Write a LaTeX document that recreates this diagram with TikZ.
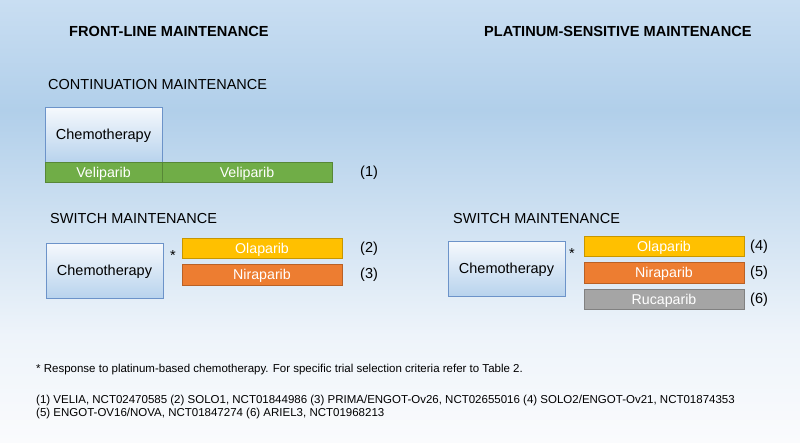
\documentclass[tikz,border=0pt]{standalone}
\usepackage{fontspec}
\setmainfont{Liberation Sans}
\usetikzlibrary{positioning}

\definecolor{bgA}{RGB}{201,222,242}
\definecolor{bgB}{RGB}{177,207,234}
\definecolor{bgC}{RGB}{238,244,250}
\definecolor{bgD}{RGB}{250,251,253}
\definecolor{chemoline}{RGB}{108,147,201}
\definecolor{chemotop}{RGB}{246,249,253}
\definecolor{chemobot}{RGB}{184,211,237}
\definecolor{veligreen}{RGB}{112,173,71}
\definecolor{olayellow}{RGB}{255,192,0}
\definecolor{niraorange}{RGB}{237,125,49}
\definecolor{rucagrey}{RGB}{165,165,165}

\begin{document}
\begin{tikzpicture}[
  x=1pt, y=-1pt,
  every node/.style={font=\fontsize{14.5}{17}\selectfont},
  chemo/.style={draw=chemoline, line width=0.8pt, top color=chemotop, bottom color=chemobot,
    minimum width=117pt, minimum height=55pt, inner sep=0pt, outer sep=0pt, anchor=north west,
    text height=13pt, text depth=3pt},
  drug/.style={draw=#1!78!black, line width=0.8pt, fill=#1, text=white, font=\fontsize{14.2}{17}\selectfont,
    minimum height=20.5pt, inner sep=0pt, outer sep=0pt, text height=12.9pt, text depth=3pt},
  hdr/.style={font=\bfseries\fontsize{14.6}{17}\selectfont, inner sep=0pt, anchor=base west},
  sub/.style={inner sep=0pt, anchor=base west},
  ref/.style={inner sep=0pt},
  note/.style={font=\fontsize{11.5}{13.7}\selectfont, inner sep=0pt, anchor=base west}
]
% background
\useasboundingbox (0,0) rectangle (800,442);
\shade[top color=bgA, bottom color=bgB] (0,0) rectangle (800,110.5);
\shade[top color=bgB, bottom color=bgC] (0,110) rectangle (800,335.5);
\shade[top color=bgC, bottom color=bgD] (0,335) rectangle (800,442);

% headings
\node[hdr] (front) at (69,36) {FRONT-LINE MAINTENANCE};
\node[hdr] (plat) at (484,36) {PLATINUM-SENSITIVE MAINTENANCE};
\node[sub] (contT) at (48,89) {CONTINUATION MAINTENANCE};
\node[sub] (switchL) at (50,223) {SWITCH MAINTENANCE};
\node[sub] (switchR) at (453,223) {SWITCH MAINTENANCE};

% continuation maintenance
\node[chemo] (chemoA) at (45,107) {Chemotherapy};
\node[drug=veligreen, minimum width=117pt, below=0pt of chemoA] (veliA) {Veliparib};
\node[drug=veligreen, minimum width=170pt, right=0pt of veliA] (veliB) {Veliparib};
\node[ref, right=28pt of veliB] (refA) {(1)};

% switch maintenance, front-line
\node[chemo] (chemoB) at (46,243) {Chemotherapy};
\node[ref, anchor=base] (starB) at (173,260) {*};
\node[drug=olayellow, minimum width=160pt, anchor=north west] (olaB) at (182,238) {Olaparib};
\node[drug=niraorange, minimum width=160pt, below=6pt of olaB] (niraB) {Niraparib};
\node[ref, right=18pt of olaB] (refB) {(2)};
\node[ref, right=18pt of niraB] (refC) {(3)};

% switch maintenance, platinum-sensitive
\node[chemo] (chemoC) at (448,241) {Chemotherapy};
\node[ref, anchor=base] (starC) at (572,258) {*};
\node[drug=olayellow, minimum width=160pt, anchor=north west] (olaC) at (584,236) {Olaparib};
\node[drug=niraorange, minimum width=160pt, below=6pt of olaC] (niraC) {Niraparib};
\node[drug=rucagrey, minimum width=160pt, below=6pt of niraC] (rucaC) {Rucaparib};
\node[ref, right=6pt of olaC] (refD) {(4)};
\node[ref, right=6pt of niraC] (refE) {(5)};
\node[ref, right=6pt of rucaC] (refF) {(6)};

% footnotes
\node[note] (starnote) at (36,372) {* Response to platinum-based chemotherapy. For specific trial selection criteria refer to Table 2.};
\node[note] (trialsA) at (36,403) {(1) VELIA, NCT02470585 (2) SOLO1, NCT01844986 (3) PRIMA/ENGOT-Ov26, NCT02655016 (4) SOLO2/ENGOT-Ov21, NCT01874353};
\node[note] (trialsB) at (36,416.7) {(5) ENGOT-OV16/NOVA, NCT01847274 (6) ARIEL3, NCT01968213};
\end{tikzpicture}
\end{document}
